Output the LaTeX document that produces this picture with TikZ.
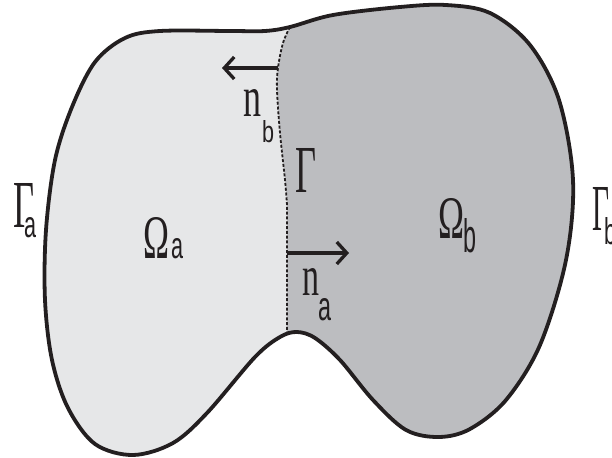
\documentclass[tikz,border=0pt]{standalone}
\usepackage{fontspec}
\usepackage{graphicx}
\usetikzlibrary{arrows.meta}
\newfontfamily\serf{Liberation Serif}
\newfontfamily\sanf{Liberation Sans}
\newcommand{\glyS}[3]{\resizebox{#1pt}{#2pt}{\serf #3}}
\newcommand{\glyA}[3]{\resizebox{#1pt}{#2pt}{\sanf #3}}
\definecolor{lightfill}{HTML}{E6E7E8}
\definecolor{darkfill}{HTML}{BCBDC0}
\definecolor{ink}{HTML}{231F20}
\tikzset{
  outline/.style={draw=ink, line width=3.8pt, line join=round},
  iface/.style={draw=ink, line width=1.8pt, dash pattern=on 3pt off 1.8pt},
  normal/.style={draw=ink, line width=3.3pt, -{Straight Barb[length=10pt,width=22pt]}},
  lbl/.style={anchor=base west, inner sep=0pt, outer sep=0pt, text=ink}
}
\begin{document}
\begin{tikzpicture}[x=1pt, y=-1pt]
\useasboundingbox (0,0) rectangle (612,457);
\begin{scope}
  \clip plot[smooth cycle, tension=0.55] coordinates {
 (290,27) (333,15) (400,7) (446,5) (490,13) (530,45) (559,100) (573,180)
 (566,260) (540,345) (506,400) (470,429) (439,437) (406,430) (373,400)
 (340,360) (315,338) (297,332) (280,337) (255,357) (207,413) (173,443)
 (133,455) (95,444) (68,408) (52,360) (45,300) (46,230) (55,160) (72,107)
 (95,62) (125,38) (160,31) (230,31) (265,31)};
  \fill[darkfill] (0,0) rectangle (612,457);
  \fill[lightfill] (0,0) -- (290,0) -- plot[smooth, tension=0.6] coordinates {
 (290,27) (283,43) (278,68) (277,90) (280,133) (285,180) (287,205)} -- (287,334) -- (287,460) -- (0,460) -- cycle;
\end{scope}
\draw[iface] plot[smooth, tension=0.6] coordinates {
 (290,27) (283,43) (278,68) (277,90) (280,133) (285,180) (287,205)} -- (287,334);
\coordinate (nbfoot) at (278,68);
\coordinate (nbtip) at (222,68);
\coordinate (nafoot) at (287,253);
\coordinate (natip) at (349,253);
\draw[normal] (nbfoot) -- (nbtip);
\draw[normal] (nafoot) -- (natip);
\draw[outline] plot[smooth cycle, tension=0.55] coordinates {
 (290,27) (333,15) (400,7) (446,5) (490,13) (530,45) (559,100) (573,180)
 (566,260) (540,345) (506,400) (470,429) (439,437) (406,430) (373,400)
 (340,360) (315,338) (297,332) (280,337) (255,357) (207,413) (173,443)
 (133,455) (95,444) (68,408) (52,360) (45,300) (46,230) (55,160) (72,107)
 (95,62) (125,38) (160,31) (230,31) (265,31)};
\node[lbl] (Ga) at (13,227) {\glyS{21}{44}{Γ}\kern-10pt\raisebox{-10pt}{\glyA{12}{20}{a}}};
\node[lbl] (Oa) at (143,258) {\glyS{26}{41}{Ω}\kern2pt\glyA{12}{20}{a}};
\node[lbl] (nb) at (243,117) {\glyS{18}{27}{n}\kern1pt\raisebox{-25pt}{\glyA{12}{22}{b}}};
\node[lbl] (G) at (295,192) {\glyS{21}{44}{Γ}};
\node[lbl] (na) at (302,295) {\glyS{17}{27}{n}\kern-1pt\raisebox{-25pt}{\glyA{13}{22}{a}}};
\node[lbl] (Ob) at (438,238) {\glyS{26}{40}{Ω}\kern-1pt\raisebox{-14pt}{\glyA{13}{34}{b}}};
\node[lbl] (Gb) at (592,230) {\glyS{17}{43}{Γ}\kern-5pt\raisebox{-14pt}{\glyA{12}{27}{b}}};
\end{tikzpicture}
\end{document}
